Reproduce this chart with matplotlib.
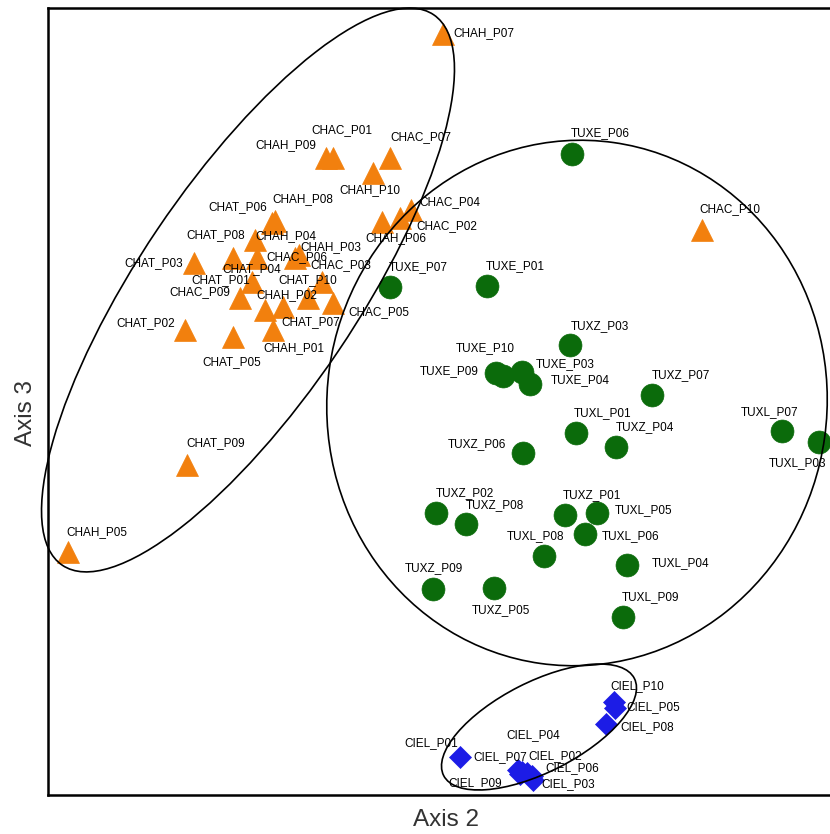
import matplotlib

matplotlib.use("Agg")
import matplotlib.pyplot as plt  # noqa: E402
from matplotlib.patches import Ellipse  # noqa: E402

# ordination scores (axis 2, axis 3) per plot
cha_names = ["CHAH_P01", "CHAH_P02", "CHAH_P03", "CHAH_P04", "CHAH_P05",
             "CHAH_P06", "CHAH_P07", "CHAH_P08", "CHAH_P09", "CHAH_P10",
             "CHAT_P01", "CHAT_P02", "CHAT_P03", "CHAT_P04", "CHAT_P05",
             "CHAT_P06", "CHAT_P07", "CHAT_P08", "CHAT_P09", "CHAT_P10",
             "CHAC_P01", "CHAC_P02", "CHAC_P03", "CHAC_P04", "CHAC_P05",
             "CHAC_P06", "CHAC_P07", "CHAC_P09", "CHAC_P10"]
cha_x = [2.25, 2.35, 2.51, 2.09, 0.20, 3.34, 3.95, 2.27, 2.78, 3.25,
         2.04, 1.37, 1.46, 1.85, 1.85, 2.24, 2.17, 2.07, 1.39, 2.74,
         2.85, 3.52, 2.60, 3.63, 2.85, 2.47, 3.42, 1.92, 6.54]
cha_y = [4.65, 4.88, 5.40, 5.37, 2.43, 5.73, 7.61, 5.74, 6.37, 6.22,
         5.13, 4.65, 5.32, 5.37, 4.58, 5.72, 4.85, 5.55, 3.30, 5.13,
         6.37, 5.77, 4.97, 5.85, 4.92, 5.37, 6.37, 4.97, 5.65]

tux_names = ["TUXE_P01", "TUXE_P03", "TUXE_P04", "TUXE_P06", "TUXE_P07",
             "TUXE_P09", "TUXE_P10",
             "TUXZ_P01", "TUXZ_P02", "TUXZ_P03", "TUXZ_P04", "TUXZ_P05",
             "TUXZ_P06", "TUXZ_P07", "TUXZ_P08", "TUXZ_P09",
             "TUXL_P01", "TUXL_P03", "TUXL_P04", "TUXL_P05", "TUXL_P06",
             "TUXL_P07", "TUXL_P08", "TUXL_P09"]
tux_x = [4.39, 4.74, 4.82, 5.24, 3.42, 4.55, 4.48,
         5.17, 3.88, 5.22, 5.68, 4.46, 4.75, 6.04, 4.18, 3.85,
         5.28, 7.71, 5.79, 5.49, 5.37, 7.34, 4.96, 5.75]
tux_y = [5.09, 4.23, 4.11, 6.41, 5.08, 4.19, 4.22,
         2.80, 2.82, 4.50, 3.48, 2.07, 3.42, 4.00, 2.71, 2.06,
         3.62, 3.53, 2.30, 2.82, 2.61, 3.64, 2.39, 1.78]

ciel_names = ["CIEL_P01", "CIEL_P02", "CIEL_P03", "CIEL_P04", "CIEL_P05",
              "CIEL_P06", "CIEL_P07", "CIEL_P08", "CIEL_P09", "CIEL_P10"]
ciel_x = [4.12, 4.79, 4.85, 4.74, 5.67, 4.84, 4.70, 5.58, 4.72, 5.66]
ciel_y = [0.38, 0.22, 0.15, 0.23, 0.87, 0.19, 0.25, 0.71, 0.21, 0.93]

# label placement, offset from the point in pixels
label_off = {
    "CHAH_P01": (21, -18), "CHAH_P02": (4, 12), "CHAH_P03": (32, 8),
    "CHAH_P04": (29, 22), "CHAH_P05": (29, 20), "CHAH_P06": (14, -16),
    "CHAH_P07": (41, 1), "CHAH_P08": (28, 22), "CHAH_P09": (-40, 13),
    "CHAH_P10": (-3, -17),
    "CHAT_P01": (-31, 2), "CHAT_P02": (-39, 7), "CHAT_P03": (-40, 0),
    "CHAT_P04": (19, -11), "CHAT_P05": (-1, -25), "CHAT_P06": (-34, 16),
    "CHAT_P07": (46, -12), "CHAT_P08": (-39, 5), "CHAT_P09": (29, 22),
    "CHAT_P10": (-14, 2),
    "CHAC_P01": (9, 28), "CHAC_P02": (47, -8), "CHAC_P03": (33, 33),
    "CHAC_P04": (39, 8), "CHAC_P05": (46, -9), "CHAC_P06": (2, 1),
    "CHAC_P07": (31, 21), "CHAC_P09": (-40, 6), "CHAC_P10": (28, 21),
    "TUXE_P01": (28, 20), "TUXE_P03": (43, 8), "TUXE_P04": (50, 4),
    "TUXE_P06": (28, 21), "TUXE_P07": (28, 20), "TUXE_P09": (-54, 5),
    "TUXE_P10": (-11, 25),
    "TUXZ_P01": (27, 20), "TUXZ_P02": (29, 20), "TUXZ_P03": (30, 19),
    "TUXZ_P04": (29, 20), "TUXZ_P05": (7, -22), "TUXZ_P06": (-46, 9),
    "TUXZ_P07": (29, 20), "TUXZ_P08": (29, 19), "TUXZ_P09": (1, 21),
    "TUXL_P01": (27, 20), "TUXL_P03": (-21, -21), "TUXL_P04": (54, 2),
    "TUXL_P05": (47, 3), "TUXL_P06": (46, -2), "TUXL_P07": (-12, 19),
    "TUXL_P08": (-8, 20), "TUXL_P09": (28, 20),
    "CIEL_P01": (-29, 14), "CIEL_P02": (28, 17), "CIEL_P03": (35, -4),
    "CIEL_P04": (11, 37), "CIEL_P05": (38, 1), "CIEL_P06": (40, 8),
    "CIEL_P07": (-18, 13), "CIEL_P08": (41, -3), "CIEL_P09": (-45, -9),
    "CIEL_P10": (23, 16),
}

# group ellipses: centre, width, height, angle
groups_ell = [((2.00, 5.05), 6.64, 2.18, 56),
              ((5.29, 3.92), 5.00, 5.26, -8),
              ((4.91, 0.68), 2.14, 0.90, 27)]

plt.rcParams["font.family"] = ["Liberation Sans", "DejaVu Sans"]

fig = plt.figure(figsize=(8.30, 8.34), dpi=100)
ax = fig.add_axes([48 / 830, 39 / 834, 800 / 830, 787 / 834])

series = [
    (cha_names, cha_x, cha_y, "^", "#F2800E", 16.5),
    (tux_names, tux_x, tux_y, "o", "#0B6B0B", 16.5),
    (ciel_names, ciel_x, ciel_y, "D", "#1C1CE6", 11.5),
]
for names, xs, ys, mk, col, ms in series:
    ax.plot(xs, ys, ls="none", marker=mk, ms=ms, color=col, mec=col,
            mew=0.5, zorder=2, clip_on=True)
    for n, x, y in zip(names, xs, ys):
        dx, dy = label_off[n]
        ax.annotate(n, (x, y), xytext=(dx, dy), textcoords="offset pixels",
                    ha="center", va="center", fontsize=8.5, color="black",
                    zorder=4)

for (cx, cy), w, h, ang in groups_ell:
    ax.add_patch(Ellipse((cx, cy), w, h, angle=ang, fill=False,
                         ec="black", lw=1.2, zorder=3, clip_on=False))

ax.set_xlim(0, 8.00)
ax.set_ylim(0, 7.87)
ax.set_xticks([])
ax.set_yticks([])
for side in ("left", "top", "bottom"):
    ax.spines[side].set_linewidth(1.8)
ax.spines["right"].set_visible(False)

fig.text(446 / 830, 1 - 820 / 834, "Axis 2", ha="center", va="center",
         fontsize=17.5, color="#333333")
fig.text(26 / 830, 1 - 413 / 834, "Axis 3", ha="center", va="center",
         rotation=90, fontsize=17.5, color="#333333")

fig.savefig("out.png", dpi=100, facecolor="white")
